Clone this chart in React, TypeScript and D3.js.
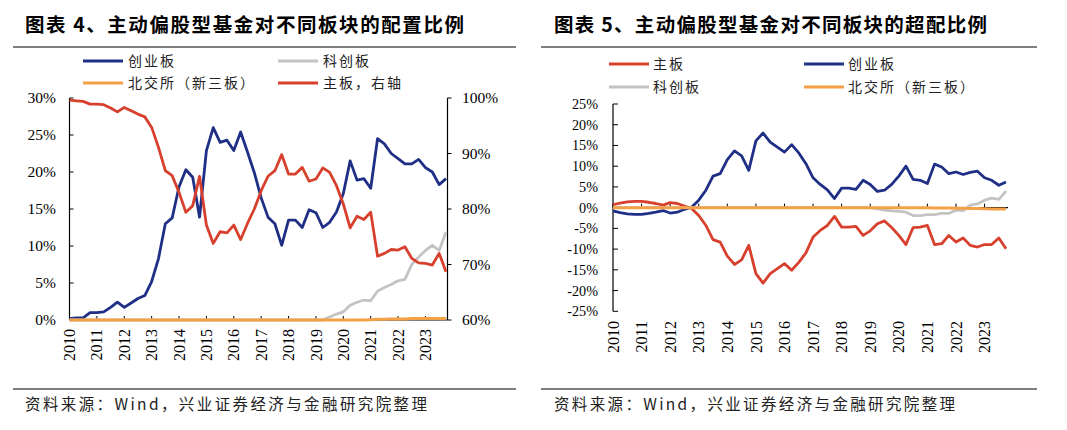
import React from "react";
import * as d3 from "d3";

// ---------- data (quarterly, 2010Q1 .. 2023Q4) ----------
const years = ["2010","2011","2012","2013","2014","2015","2016","2017","2018","2019","2020","2021","2022","2023"];

// Chart 4 – allocation share (%)
const gem4 = [0.2,0.3,0.3,1.0,1.0,1.1,1.7,2.4,1.7,2.3,2.9,3.3,5.2,8.3,13.0,13.8,18.0,20.3,19.3,13.9,22.9,26.0,24.0,24.3,22.9,25.4,22.7,19.9,16.5,13.9,13.0,10.1,13.5,13.5,12.5,14.9,14.5,12.5,13.2,14.6,17.1,21.5,18.9,19.1,17.8,24.5,23.8,22.5,21.8,21.1,21.1,21.7,20.6,20.0,18.3,19.1];
const star4 = [0,0,0,0,0,0,0,0,0,0,0,0,0,0,0,0,0,0,0,0,0,0,0,0,0,0,0,0,0,0,0,0,0,0,0,0,0,0,0.4,0.8,1.1,2.0,2.4,2.7,2.6,3.9,4.4,4.8,5.3,5.5,7.5,8.5,9.4,10.1,9.4,11.9];
const bse4 = [0,0,0,0,0,0,0,0,0,0,0,0,0,0,0,0,0,0,0,0,0,0,0,0,0,0,0,0,0,0,0,0,0,0,0,0,0,0,0,0,0,0,0,0,0.05,0.1,0.1,0.15,0.15,0.15,0.2,0.2,0.2,0.2,0.2,0.2];
const main4 = [99.6,99.5,99.4,98.9,98.9,98.8,98.2,97.5,98.3,97.7,97.1,96.6,94.7,91.1,86.9,86.0,83.0,79.4,80.6,85.9,77.1,73.8,75.9,75.7,77.1,74.5,77.4,80.0,83.3,85.9,86.9,89.8,86.3,86.3,87.5,85.0,85.4,87.4,86.6,84.2,80.9,76.6,78.7,78.1,79.4,71.5,72.0,72.7,72.6,73.2,71.1,70.3,70.2,69.9,72.0,68.7];

// Chart 5 – over-allocation (%)
const main5 = [0.7,1.1,1.4,1.5,1.5,1.3,1.0,0.6,1.2,1.0,0.4,-0.2,-1.9,-4.3,-7.7,-8.3,-11.7,-13.7,-12.6,-9.1,-15.9,-18.2,-15.9,-14.7,-13.5,-15.1,-13.2,-10.9,-7.1,-5.5,-4.3,-2.1,-4.7,-4.7,-4.5,-6.7,-5.6,-3.9,-3.2,-4.8,-6.7,-8.9,-4.8,-4.7,-4.3,-8.9,-8.7,-6.7,-8.3,-7.3,-9.1,-9.5,-8.9,-8.9,-7.3,-9.9];
const gem5 = [-0.8,-1.2,-1.5,-1.6,-1.6,-1.4,-1.1,-0.7,-1.3,-1.1,-0.4,0.1,1.8,4.2,7.6,8.2,11.6,13.7,12.5,9.0,16.1,18.0,15.8,14.6,13.4,15.2,13.2,10.6,7.2,5.6,4.3,2.2,4.7,4.7,4.4,6.6,5.6,3.9,4.2,5.6,7.6,10.0,6.8,6.6,5.8,10.5,9.8,8.2,8.6,8.0,8.5,8.8,7.2,6.6,5.4,6.2];
const star5 = [0,0,0,0,0,0,0,0,0,0,0,0,0,0,0,0,0,0,0,0,0,0,0,0,0,0,0,0,0,0,0,0,0,0,0,0,0,-0.3,-0.6,-0.8,-0.9,-1.1,-1.9,-1.9,-1.7,-1.7,-1.4,-1.4,-0.6,-0.7,0.6,0.9,1.8,2.3,2.0,4.0];
const bse5 = [0,0,0,0,0,0,0,0,0,0,0,0,0,0,0,0,0,0,0,0,0,0,0,0,0,0,0,0,0,0,0,0,0,0,0,0,0,0,0,0,0,0,0,0,-0.05,-0.1,-0.1,-0.1,-0.15,-0.15,-0.2,-0.2,-0.25,-0.3,-0.3,-0.35];

const leftTicks = [0,5,10,15,20,25,30];
const rightTicks = [60,70,80,90,100];
const ticks5 = [-25,-20,-15,-10,-5,0,5,10,15,20,25];

const C_BLUE = "#1f2f86";
const C_RED = "#d7402d";
const C_GRAY = "#c3c3c3";
const C_ORANGE = "#f4a047";

const SERIF = "'Liberation Serif', 'Times New Roman', serif";
const CJK = "'Noto Sans CJK SC', sans-serif";

function pathOf(vals: number[], x: d3.ScaleLinear<number, number>, y: d3.ScaleLinear<number, number>) {
  const gen = d3.line<number>().x((_, i) => x(i)).y((d) => y(d));
  return gen(vals) || "";
}

function Chart4() {
  const x = d3.scaleLinear().domain([0, 55]).range([69.5, 446]);
  const yL = d3.scaleLinear().domain([0, 30]).range([320, 98]);
  const yR = d3.scaleLinear().domain([60, 100]).range([320, 98]);
  const axR = 447.5;
  return (
    <g>
      <text x={25} y={32} fontFamily={CJK} fontWeight={700} fontSize={19.5} textLength={439} lengthAdjust="spacing">图表 4、主动偏股型基金对不同板块的配置比例</text>
      <line x1={13} x2={516} y1={47} y2={47} stroke="#000" strokeWidth={1} />
      {/* legend */}
      {[
        { c: C_BLUE, t: "创业板", lx: 83, ly: 61 },
        { c: C_GRAY, t: "科创板", lx: 278, ly: 61 },
        { c: C_ORANGE, t: "北交所（新三板）", lx: 83, ly: 83 },
        { c: C_RED, t: "主板，右轴", lx: 278, ly: 83 },
      ].map((l) => (
        <g key={l.t}>
          <line x1={l.lx} x2={l.lx + 40} y1={l.ly} y2={l.ly} stroke={l.c} strokeWidth={3} />
          <text x={l.lx + 45} y={l.ly + 5} fontFamily={CJK} fontSize={14} letterSpacing={2} fill="#222">{l.t}</text>
        </g>
      ))}
      {/* axes */}
      <line x1={69.5} x2={69.5} y1={98} y2={320} stroke="#000" strokeWidth={1.2} />
      <line x1={axR} x2={axR} y1={98} y2={320} stroke="#000" strokeWidth={1.2} />
      <line x1={69.5} x2={axR} y1={320} y2={320} stroke="#000" strokeWidth={1.2} />
      {leftTicks.map((t) => (
        <g key={"l" + t}>
          <line x1={69.5} x2={73.5} y1={yL(t)} y2={yL(t)} stroke="#000" />
          <text x={56} y={yL(t)} dy="0.35em" textAnchor="end" fontFamily={SERIF} fontSize={15.5}>{t + "%"}</text>
        </g>
      ))}
      {rightTicks.map((t) => (
        <g key={"r" + t}>
          <line x1={axR} x2={axR + 4} y1={yR(t)} y2={yR(t)} stroke="#000" />
          <text x={462} y={yR(t)} dy="0.35em" textAnchor="start" fontFamily={SERIF} fontSize={15.5}>{t + "%"}</text>
        </g>
      ))}
      {years.map((yr, k) => (
        <g key={yr}>
          <line x1={x(k * 4)} x2={x(k * 4)} y1={320} y2={316} stroke="#000" />
          <text transform={`translate(${x(k * 4)},329) rotate(-90)`} dy="0.35em" textAnchor="end" fontFamily={SERIF} fontSize={16}>{yr}</text>
        </g>
      ))}
      {/* series */}
      <path d={pathOf(gem4, x, yL)} fill="none" stroke={C_BLUE} strokeWidth={2.8} strokeLinejoin="round" />
      <path d={pathOf(star4, x, yL)} fill="none" stroke={C_GRAY} strokeWidth={2.8} strokeLinejoin="round" />
      <path d={pathOf(main4, x, yR)} fill="none" stroke={C_RED} strokeWidth={2.8} strokeLinejoin="round" />
      <path d={pathOf(bse4, x, yL)} fill="none" stroke={C_ORANGE} strokeWidth={3} strokeLinejoin="round" />
      {/* footer */}
      <line x1={13} x2={516} y1={389} y2={389} stroke="#000" strokeWidth={1} />
      <text x={25} y={410} fontFamily={CJK} fontSize={15.5} textLength={402} lengthAdjust="spacing" fill="#222">资料来源：Wind，兴业证券经济与金融研究院整理</text>
    </g>
  );
}

function Chart5() {
  const x = d3.scaleLinear().domain([0, 55]).range([613, 1006]);
  const y = d3.scaleLinear().domain([-25, 25]).range([311.3, 104]);
  return (
    <g>
      <text x={554} y={32} fontFamily={CJK} fontWeight={700} fontSize={19.5} textLength={433} lengthAdjust="spacing">图表 5、主动偏股型基金对不同板块的超配比例</text>
      <line x1={541} x2={1037} y1={47} y2={47} stroke="#000" strokeWidth={1} />
      {[
        { c: C_RED, t: "主板", lx: 609, ly: 64 },
        { c: C_BLUE, t: "创业板", lx: 804, ly: 64 },
        { c: C_GRAY, t: "科创板", lx: 609, ly: 87 },
        { c: C_ORANGE, t: "北交所（新三板）", lx: 804, ly: 87 },
      ].map((l) => (
        <g key={l.t}>
          <line x1={l.lx} x2={l.lx + 40} y1={l.ly} y2={l.ly} stroke={l.c} strokeWidth={3} />
          <text x={l.lx + 44} y={l.ly + 5} fontFamily={CJK} fontSize={14} letterSpacing={2} fill="#222">{l.t}</text>
        </g>
      ))}
      <line x1={613} x2={613} y1={104} y2={311.3} stroke="#000" strokeWidth={1.2} />
      <line x1={613} x2={1008} y1={y(0)} y2={y(0)} stroke="#000" strokeWidth={1.2} />
      {ticks5.map((t) => (
        <g key={"t" + t}>
          <line x1={613} x2={618} y1={y(t)} y2={y(t)} stroke="#000" />
          <text x={598} y={y(t)} dy="0.35em" textAnchor="end" fontFamily={SERIF} fontSize={14.2}>{t + "%"}</text>
        </g>
      ))}
      {years.map((yr, k) => (
        <g key={yr}>
          <line x1={x(k * 4)} x2={x(k * 4)} y1={y(0)} y2={y(0) - 4} stroke="#000" />
          <text transform={`translate(${x(k * 4)},321) rotate(-90)`} dy="0.35em" textAnchor="end" fontFamily={SERIF} fontSize={16}>{yr}</text>
        </g>
      ))}
      <path d={pathOf(gem5, x, y)} fill="none" stroke={C_BLUE} strokeWidth={2.8} strokeLinejoin="round" />
      <path d={pathOf(main5, x, y)} fill="none" stroke={C_RED} strokeWidth={2.8} strokeLinejoin="round" />
      <path d={pathOf(star5, x, y)} fill="none" stroke={C_GRAY} strokeWidth={2.8} strokeLinejoin="round" />
      <path d={pathOf(bse5, x, y)} fill="none" stroke={C_ORANGE} strokeWidth={3} strokeLinejoin="round" />
      <line x1={541} x2={1037} y1={389} y2={389} stroke="#000" strokeWidth={1} />
      <text x={554} y={410} fontFamily={CJK} fontSize={15.5} textLength={401} lengthAdjust="spacing" fill="#222">资料来源：Wind，兴业证券经济与金融研究院整理</text>
    </g>
  );
}

export default function App() {
  return (
    <svg width={1067} height={430} style={{ position: "absolute", left: 0, top: 0, background: "#fff" }}>
      <rect width={1067} height={430} fill="#fff" />
      <Chart4 />
      <Chart5 />
    </svg>
  );
}
